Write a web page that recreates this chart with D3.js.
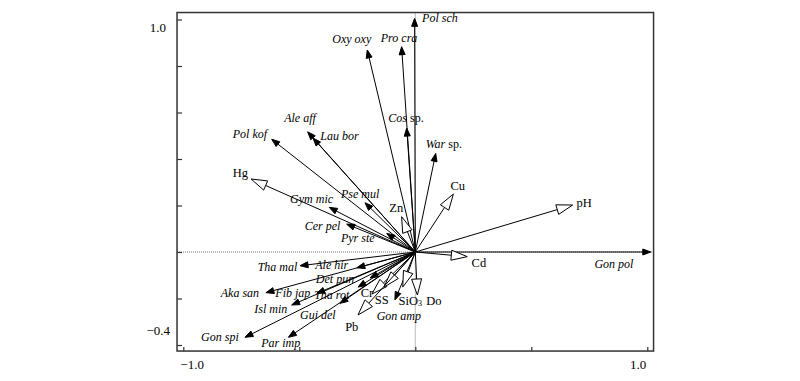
<!DOCTYPE html>
<html><head><meta charset="utf-8">
<script src="https://cdn.jsdelivr.net/npm/d3@7/dist/d3.min.js"></script>
<style>
body{margin:0;background:#fff}
text{font-family:"Liberation Serif","Times New Roman",serif;font-size:12px;fill:#000}
</style>
</head><body>
<svg id="chart" width="800" height="381"></svg>
<script>
// ---- data (biplot scores) ----
const speciesNames = ["Pol sch","Pro cra","Oxy oxy","Cos sp.","War sp.","Ale aff","Lau bor","Pol kof","Gym mic","Pse mul","Cer pel","Pyr ste","Gon pol","Tha mal","Ale hir","Det pun","Aka san","Fib jap","Tha rot","Isl min","Gui del","Gon spi","Par imp","Gon amp"];
const speciesX = [-0.003,-0.059,-0.207,-0.037,0.088,-0.464,-0.441,-0.619,-0.371,-0.217,-0.296,-0.123,1.015,-0.497,-0.252,-0.195,-0.644,-0.425,-0.247,-0.533,-0.325,-0.734,-0.547,-0.088];
const speciesY = [1.005,0.883,0.869,0.533,0.424,0.517,0.490,0.485,0.192,0.212,0.120,0.080,0.000,-0.059,-0.068,-0.112,-0.175,-0.178,-0.151,-0.228,-0.221,-0.367,-0.367,-0.206];
const speciesLabelX = [0.106,-0.070,-0.274,-0.040,0.123,-0.497,-0.327,-0.713,-0.447,-0.238,-0.400,-0.248,0.856,-0.594,-0.360,-0.346,-0.756,-0.528,-0.360,-0.623,-0.420,-0.842,-0.580,-0.071];
const speciesLabelY = [1.006,0.920,0.916,0.576,0.465,0.576,0.500,0.506,0.227,0.249,0.113,0.059,-0.052,-0.063,-0.056,-0.117,-0.175,-0.178,-0.185,-0.246,-0.271,-0.367,-0.393,-0.276];

const envNames = ["Hg","Zn","Cu","pH","Cd","Do","SiO3","SS","Cr","Pb"];
const envX = [-0.708,-0.059,0.164,0.678,0.224,0.009,-0.054,-0.187,-0.135,-0.247];
const envY = [0.314,0.152,0.249,0.202,-0.020,-0.185,-0.151,-0.181,-0.151,-0.271];
const envLabelX = [-0.754,-0.082,0.183,0.728,0.274,0.080,-0.022,-0.145,-0.208,-0.274];
const envLabelY = [0.339,0.188,0.285,0.212,-0.049,-0.210,-0.210,-0.206,-0.175,-0.324];

const xTicks = [-1.0,-0.5,0,0.5,1.0];
const yTicks = [1.0,0.8,0.6,0.4,0.2,0,-0.2,-0.4];
const xTickLabels = ["\u22121.0","1.0"];
const yTickLabels = ["1.0","\u22120.4"];

// ---- scales ----
const svg = d3.select("#chart");
const x = d3.scaleLinear().domain([-1,1]).range([183.3,647.3]);
const y = d3.scaleLinear().domain([-0.4,1.0]).range([345,19.5]);
const frame = {x0:x(-1.027), x1:x(1.027), y0:y(1.03), y1:y(-0.426)};

// zero lines (dotted)
svg.append("line").attr("x1",frame.x0).attr("x2",frame.x1).attr("y1",y(0)).attr("y2",y(0))
  .attr("stroke","#777").attr("stroke-width",1).attr("stroke-dasharray","1,1");
svg.append("line").attr("x1",x(0)).attr("x2",x(0)).attr("y1",frame.y0).attr("y2",frame.y1)
  .attr("stroke","#777").attr("stroke-width",1).attr("stroke-dasharray","1,1");

// frame
svg.append("rect").attr("x",frame.x0).attr("y",frame.y0)
  .attr("width",frame.x1-frame.x0).attr("height",frame.y1-frame.y0)
  .attr("fill","none").attr("stroke","#333").attr("stroke-width",1.5);

// axes ticks (inward)
const gl = svg.append("g").attr("transform",`translate(${frame.x0},0)`)
  .call(d3.axisLeft(y).tickValues(yTicks).tickSize(-5).tickFormat(""));
gl.select(".domain").remove();
gl.selectAll("line").attr("stroke","#333").attr("stroke-width",1.2);
const gb = svg.append("g").attr("transform",`translate(0,${frame.y1})`)
  .call(d3.axisBottom(x).tickValues(xTicks).tickSize(-4).tickFormat(""));
gb.select(".domain").remove();
gb.selectAll("line").attr("stroke","#333").attr("stroke-width",1.2);

// tick labels
svg.append("text").attr("x",frame.x0-11).attr("y",y(yTicks[0])+12).attr("text-anchor","end")
  .style("font-size","13px").text(yTickLabels[0]);
svg.append("text").attr("x",frame.x0-7).attr("y",y(yTicks[yTicks.length-1])-10).attr("text-anchor","end")
  .style("font-size","13px").text(yTickLabels[1]);
svg.append("text").attr("x",x(xTicks[0])-3).attr("y",frame.y1+18).attr("text-anchor","start")
  .style("font-size","13px").text(xTickLabels[0]);
svg.append("text").attr("x",x(xTicks[xTicks.length-1])-1).attr("y",frame.y1+18).attr("text-anchor","end")
  .style("font-size","13px").text(xTickLabels[1]);

// arrow helper
function arrow(g, tx, ty, len, hw, hollow){
  const ox = x(0), oy = y(0);
  const px = x(tx), py = y(ty);
  const dx = px-ox, dy = py-oy, L = Math.hypot(dx,dy);
  const ux = dx/L, uy = dy/L;
  const bx = px-ux*len, by = py-uy*len;
  g.append("line").attr("x1",ox).attr("y1",oy).attr("x2",bx).attr("y2",by)
    .attr("stroke","#000").attr("stroke-width",1);
  const pts = [[px,py],[bx-uy*hw,by+ux*hw],[bx+uy*hw,by-ux*hw]];
  g.append("path").attr("d",d3.line()(pts)+"Z")
    .attr("fill",hollow?"#fff":"#000").attr("stroke","#000").attr("stroke-width",1)
    .attr("stroke-linejoin","miter");
}

const ga = svg.append("g");
speciesNames.forEach((n,i)=>arrow(ga, speciesX[i], speciesY[i], 8, 3, false));
envNames.forEach((n,i)=>arrow(ga, envX[i], envY[i], 16, 5, true));

// labels
speciesNames.forEach((n,i)=>{
  const t = svg.append("text").attr("x",x(speciesLabelX[i])).attr("y",y(speciesLabelY[i]))
    .attr("text-anchor","middle").attr("dominant-baseline","central");
  if(n.endsWith(" sp.")){
    t.append("tspan").style("font-style","italic").text(n.replace(" sp.",""));
    t.append("tspan").text(" sp.");
  } else {
    t.style("font-style","italic").text(n);
  }
});
envNames.forEach((n,i)=>{
  const t = svg.append("text").attr("x",x(envLabelX[i])).attr("y",y(envLabelY[i]))
    .attr("text-anchor","middle").attr("dominant-baseline","central").style("font-size","12.5px");
  if(n==="SiO3"){
    t.append("tspan").text("SiO");
    t.append("tspan").attr("dy",2).style("font-size","8px").text("3");
  } else t.text(n);
});
</script>
</body></html>
